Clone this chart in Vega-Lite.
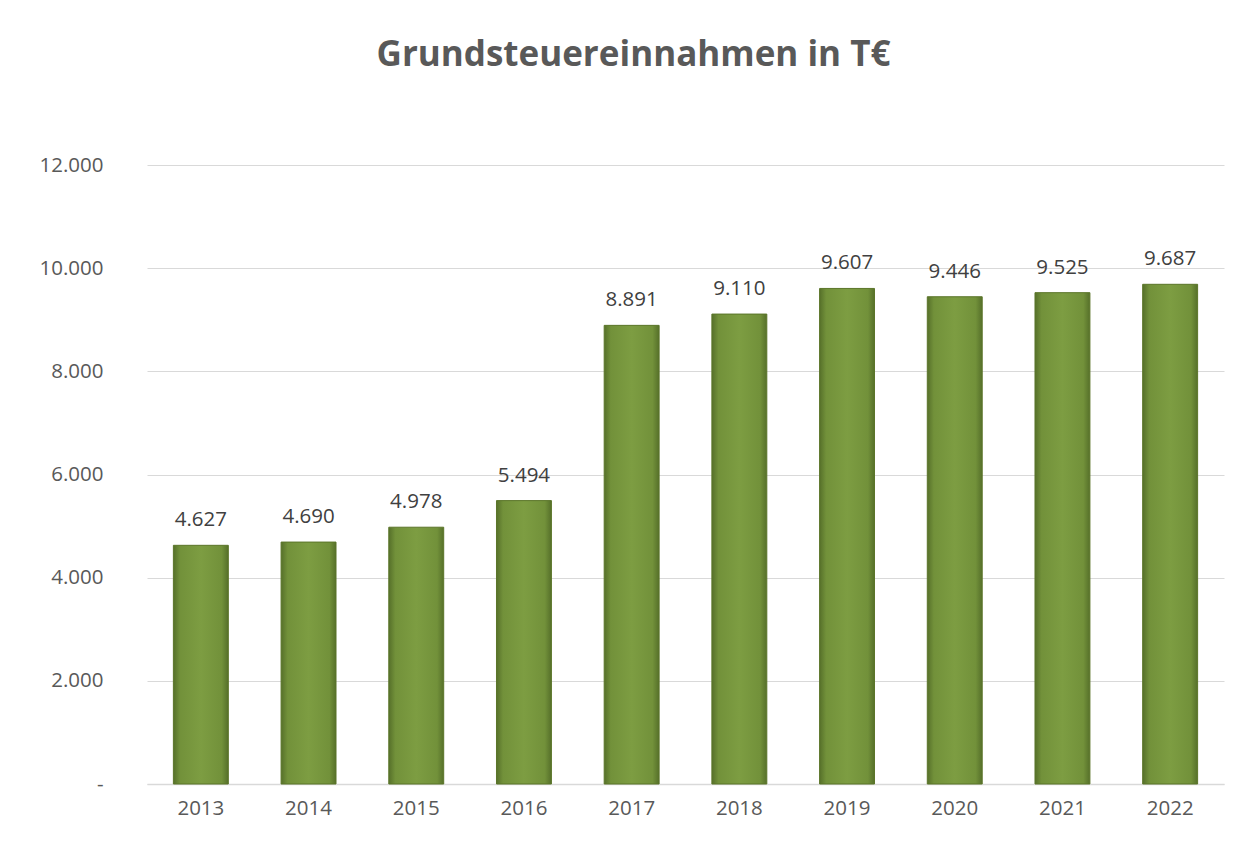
{
  "$schema": "https://vega.github.io/schema/vega-lite/v6.json",
  "width": 1077,
  "height": 619,
  "autosize": {"type": "none"},
  "padding": {"left": 147, "top": 165, "right": 23, "bottom": 59},
  "background": "white",
  "title": {
    "text": "Grundsteuereinnahmen in T€",
    "font": "Open Sans",
    "fontSize": 35,
    "fontWeight": "bold",
    "color": "#595959",
    "anchor": "middle",
    "frame": "group",
    "baseline": "alphabetic",
    "offset": 54,
    "dx": -52
  },
  "config": {
    "locale": {"number": {"decimal": ",", "thousands": ".", "grouping": [3], "currency": ["", " €"]}},
    "view": {"stroke": null},
    "font": "Open Sans"
  },
  "data": {
    "values": [
      {"Jahr": "2013", "Wert": 4627},
      {"Jahr": "2014", "Wert": 4690},
      {"Jahr": "2015", "Wert": 4978},
      {"Jahr": "2016", "Wert": 5494},
      {"Jahr": "2017", "Wert": 8891},
      {"Jahr": "2018", "Wert": 9110},
      {"Jahr": "2019", "Wert": 9607},
      {"Jahr": "2020", "Wert": 9446},
      {"Jahr": "2021", "Wert": 9525},
      {"Jahr": "2022", "Wert": 9687}
    ]
  },
  "encoding": {
    "x": {
      "field": "Jahr",
      "type": "ordinal",
      "scale": {"paddingInner": 0.49, "paddingOuter": 0.245},
      "axis": {
        "title": null,
        "labelAngle": 0,
        "labelFont": "Open Sans",
        "labelFontSize": 20.5,
        "labelColor": "#595959",
        "labelPadding": 14,
        "ticks": false,
        "domainColor": "#d9d9d9",
        "domainWidth": 1.5,
        "grid": false
      }
    },
    "y": {
      "field": "Wert",
      "type": "quantitative",
      "scale": {"domain": [0, 12000]},
      "axis": {
        "title": null,
        "values": [0, 2000, 4000, 6000, 8000, 10000, 12000],
        "format": ",d",
        "labelExpr": "datum.value == 0 ? '-' : datum.label",
        "labelFont": "Open Sans",
        "labelFontSize": 20.5,
        "labelColor": "#595959",
        "labelPadding": 44,
        "ticks": false,
        "domain": false,
        "grid": true,
        "gridColor": "#d9d9d9",
        "gridWidth": 1,
        "encode": {
          "labels": {
            "update": {
              "dx": {"signal": "datum.value == 0 ? -12 : 0"}
            }
          }
        }
      }
    }
  },
  "layer": [
    {
      "mark": {
        "type": "bar",
        "stroke": "#5b7529",
        "strokeWidth": 1,
        "fill": {
          "gradient": "linear",
          "x1": 0, "y1": 0, "x2": 1, "y2": 0,
          "stops": [
            {"offset": 0, "color": "#56702a"},
            {"offset": 0.12, "color": "#72913a"},
            {"offset": 0.5, "color": "#7d9d42"},
            {"offset": 0.88, "color": "#72913a"},
            {"offset": 1, "color": "#56702a"}
          ]
        }
      }
    },
    {
      "mark": {
        "type": "text",
        "baseline": "alphabetic",
        "dy": -19,
        "font": "Open Sans",
        "fontSize": 20.5,
        "color": "#404040"
      },
      "encoding": {
        "text": {"field": "Wert", "type": "quantitative", "format": ",d"}
      }
    }
  ]
}
